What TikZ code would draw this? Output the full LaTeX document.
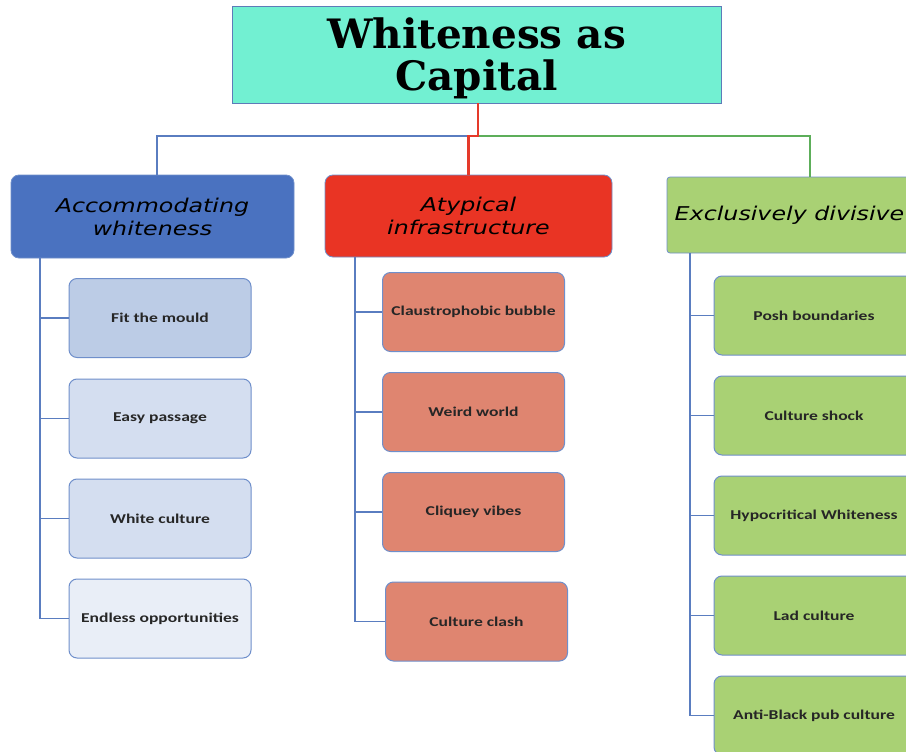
\documentclass[tikz,border=0pt]{standalone}
\usepackage{fontspec}
\newfontfamily\titlefont{DejaVu Serif}
\newfontfamily\headfont{DejaVu Sans}[FakeStretch=1.25]
\newfontfamily\itemfont{Carlito}[FakeStretch=1.3]
\definecolor{titlefill}{HTML}{72F0D2}
\definecolor{titleedge}{HTML}{5E7BB8}
\definecolor{bluefill}{HTML}{4A72C0}
\definecolor{redfill}{HTML}{E93424}
\definecolor{greenfill}{HTML}{A9D174}
\definecolor{edgeblue}{HTML}{6F8FCB}
\definecolor{treeblue}{HTML}{5A7DC0}
\definecolor{bluA}{HTML}{BCCCE6}
\definecolor{bluB}{HTML}{D4DEF0}
\definecolor{bluC}{HTML}{E9EEF7}
\definecolor{salmon}{HTML}{DF8570}
\definecolor{linered}{HTML}{E53A2A}
\definecolor{linegreen}{HTML}{5DAE5A}
\begin{document}
\begin{tikzpicture}[x=1pt,y=-1pt,
  titlebox/.style={draw=titleedge,line width=0.8pt,fill=titlefill,minimum width=489pt,minimum height=97pt,align=center,inner sep=0pt,
    font=\titlefont\bfseries\fontsize{40.5}{42}\selectfont},
  headbox/.style={draw=edgeblue,line width=0.8pt,rounded corners=8pt,align=center,inner sep=0pt,
    font=\headfont\itshape\fontsize{19}{23}\selectfont},
  itembox/.style={draw=edgeblue,line width=1pt,rounded corners=8pt,minimum width=182pt,minimum height=79pt,inner sep=0pt,
    font=\itemfont\bfseries\fontsize{13.5}{16}\selectfont,text=black!85},
  tree/.style={draw=treeblue,line width=1.2pt},
  mainline/.style={line width=2.2pt}
]
\clip (0,0) rectangle (906,752);
\fill[white] (0,0) rectangle (906,752);

\node[titlebox] (title) at (476.5,54.5) {};
\node[font=\titlefont\bfseries\fontsize{40.5}{42}\selectfont,align=center,inner sep=0pt] (titletext) at (476.5,58) {Whiteness as\\Capital};

\node[headbox,fill=bluefill,minimum width=283pt,minimum height=83pt] (blue) at (152.5,216.5) {Accommodating\\whiteness};
\node[headbox,fill=redfill,minimum width=287pt,minimum height=82pt] (red) at (468.5,216) {Atypical\\infrastructure};
\node[headbox,fill=greenfill,rounded corners=3pt,minimum width=245pt,minimum height=76pt] (green) at (789.5,215) {Exclusively divisive};

\coordinate (hub) at (478,136);
\draw[treeblue,mainline] (hub) -| ([xshift=4.5pt]blue.north);
\draw[linegreen,mainline] (hub) -| ([xshift=20.5pt]green.north);
\draw[linered,mainline] (title.south -| hub) -- (hub) -| (red.north);

% left column
\node[itembox,fill=bluA] (a1) at (160,318) {Fit the mould};
\node[itembox,fill=bluB] (a2) at (160,418.5) {Easy passage};
\node[itembox,fill=bluB] (a3) at (160,518.5) {White culture};
\node[itembox,fill=bluC] (a4) at (160,618.5) {Endless opportunities};
\coordinate (at) at (40,258);
\draw[tree] (at) |- (a4.west);
\foreach \n in {a1,a2,a3} \draw[tree] (\n.west) -- (\n.west -| at);

% middle column
\node[itembox,fill=salmon] (b1) at (473.5,312) {Claustrophobic bubble};
\node[itembox,fill=salmon] (b2) at (473.5,412) {Weird world};
\node[itembox,fill=salmon] (b3) at (473.5,512) {Cliquey vibes};
\node[itembox,fill=salmon] (b4) at (476.5,621.5) {Culture clash};
\coordinate (bt) at (355,257);
\draw[tree] (bt) |- (b4.west);
\foreach \n in {b1,b2,b3} \draw[tree] (\n.west) -- (\n.west -| bt);

% right column
\node[itembox,fill=greenfill,minimum width=200pt] (c1) at (814,315.5) {Posh boundaries};
\node[itembox,fill=greenfill,minimum width=200pt] (c2) at (814,415.5) {Culture shock};
\node[itembox,fill=greenfill,minimum width=200pt] (c3) at (814,515.5) {Hypocritical Whiteness};
\node[itembox,fill=greenfill,minimum width=200pt] (c4) at (814,615.5) {Lad culture};
\node[itembox,fill=greenfill,minimum width=200pt] (c5) at (814,715.5) {Anti-Black pub culture};
\coordinate (ct) at (690,253);
\draw[tree] (ct) |- (c5.west);
\foreach \n in {c1,c2,c3,c4} \draw[tree] (\n.west) -- (\n.west -| ct);
\end{tikzpicture}
\end{document}
